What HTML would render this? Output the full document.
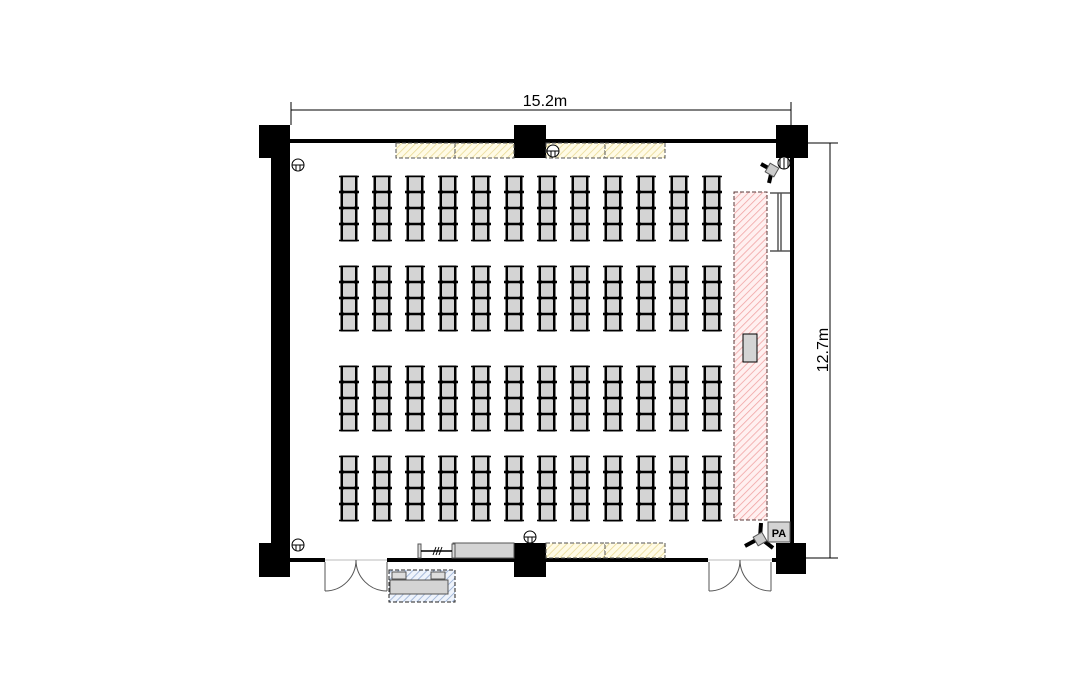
<!DOCTYPE html>
<html><head><meta charset="utf-8"><style>
html,body{margin:0;padding:0;background:#fff;}
svg{display:block;}
text{font-family:"Liberation Sans",sans-serif;}
</style></head><body>
<svg width="1079" height="696" viewBox="0 0 1079 696" xmlns="http://www.w3.org/2000/svg">
<defs>
<pattern id="yh" width="5" height="5" patternUnits="userSpaceOnUse" patternTransform="rotate(45)"><rect width="5" height="5" fill="#fffbe6"/><line x1="0" y1="0" x2="0" y2="5" stroke="#e8d890" stroke-width="1.5"/></pattern>
<pattern id="rh" width="5" height="5" patternUnits="userSpaceOnUse" patternTransform="rotate(45)"><rect width="5" height="5" fill="#fff0f0"/><line x1="0" y1="0" x2="0" y2="5" stroke="#f0a0a0" stroke-width="1.5"/></pattern>
<pattern id="bh" width="5" height="5" patternUnits="userSpaceOnUse" patternTransform="rotate(45)"><rect width="5" height="5" fill="#eef3fb"/><line x1="0" y1="0" x2="0" y2="5" stroke="#8fa8d0" stroke-width="1.5"/></pattern>
<g id="chair">
<rect x="341" y="0" width="16" height="65" fill="#d4d4d4" stroke="#000" stroke-width="1"/>
<line x1="342" y1="0" x2="342" y2="65" stroke="#000" stroke-width="2"/>
<line x1="356" y1="0" x2="356" y2="65" stroke="#000" stroke-width="2"/>
<g stroke="#000" stroke-width="2.4">
<line x1="339" y1="16" x2="359" y2="16"/><line x1="339" y1="32" x2="359" y2="32"/><line x1="339" y1="48" x2="359" y2="48"/>
</g>
<g fill="#000"><circle cx="342" cy="16" r="2"/><circle cx="356" cy="16" r="2"/><circle cx="342" cy="32" r="2"/><circle cx="356" cy="32" r="2"/><circle cx="342" cy="48" r="2"/><circle cx="356" cy="48" r="2"/></g>
<g stroke="#000" stroke-width="1.4"><line x1="339" y1="0.5" x2="359" y2="0.5"/><line x1="339" y1="64.5" x2="359" y2="64.5"/></g>
</g>
<g id="blockrow">
<use href="#chair" x="0"/><use href="#chair" x="33"/><use href="#chair" x="66"/><use href="#chair" x="99"/>
<use href="#chair" x="132"/><use href="#chair" x="165"/><use href="#chair" x="198"/><use href="#chair" x="231"/>
<use href="#chair" x="264"/><use href="#chair" x="297"/><use href="#chair" x="330"/><use href="#chair" x="363"/>
</g>
</defs>

<line x1="291" y1="110" x2="791" y2="110" stroke="#000" stroke-width="1"/>
<line x1="291" y1="102" x2="291" y2="125" stroke="#000" stroke-width="1"/>
<line x1="791" y1="102" x2="791" y2="125" stroke="#000" stroke-width="1"/>
<text x="545" y="106" font-size="16" text-anchor="middle">15.2m</text>
<line x1="830" y1="143" x2="830" y2="558" stroke="#000" stroke-width="1"/>
<line x1="808" y1="143" x2="838" y2="143" stroke="#000" stroke-width="1"/>
<line x1="806" y1="558" x2="838" y2="558" stroke="#000" stroke-width="1"/>
<text x="0" y="0" font-size="16" text-anchor="middle" transform="translate(828,350) rotate(-90)">12.7m</text>

<rect x="290" y="139" width="488" height="4" fill="#000"/>
<rect x="271" y="125" width="19" height="452" fill="#000"/>
<rect x="790" y="158" width="4" height="386" fill="#000"/>
<rect x="290" y="558" width="35" height="4" fill="#000"/>
<rect x="387" y="558" width="127" height="4" fill="#000"/>
<rect x="546" y="558" width="162" height="4" fill="#000"/>
<rect x="772" y="558" width="6" height="4" fill="#000"/>
<line x1="325" y1="560" x2="387" y2="560" stroke="#bbb" stroke-width="1"/>
<line x1="708" y1="560" x2="772" y2="560" stroke="#bbb" stroke-width="1"/>
<rect x="259" y="125" width="31" height="33" fill="#000"/>
<rect x="514" y="125" width="32" height="33" fill="#000"/>
<rect x="776" y="125" width="32" height="33" fill="#000"/>
<rect x="259" y="543" width="31" height="34" fill="#000"/>
<rect x="514" y="543" width="32" height="34" fill="#000"/>
<rect x="776" y="543" width="30" height="31" fill="#000"/>

<g fill="none" stroke="#555" stroke-width="1">
<line x1="325" y1="562" x2="325" y2="591"/><path d="M325 591 A31 31 0 0 0 356 560"/>
<line x1="387" y1="562" x2="387" y2="591"/><path d="M387 591 A31 31 0 0 1 356 560"/>
<line x1="709" y1="562" x2="709" y2="591"/><path d="M709 591 A31 31 0 0 0 740 560"/>
<line x1="771" y1="562" x2="771" y2="591"/><path d="M771 591 A31 31 0 0 1 740 560"/>
</g>

<g stroke="#555" stroke-width="1" stroke-dasharray="4,2" fill="url(#yh)">
<rect x="396" y="143" width="59" height="15"/><rect x="455" y="143" width="59" height="15"/>
<rect x="546" y="143" width="59" height="15"/><rect x="605" y="143" width="60" height="15"/>
<rect x="546" y="543" width="59" height="15"/><rect x="605" y="543" width="60" height="15"/>
</g>

<g fill="#fff" stroke="#000" stroke-width="1">
<circle cx="298" cy="165" r="6"/><circle cx="298" cy="545" r="6"/>
<circle cx="553" cy="151" r="6"/><circle cx="530" cy="537" r="6"/>
<circle cx="784" cy="163" r="6"/>
</g>
<g stroke="#000" stroke-width="1">
<line x1="292" y1="165" x2="304" y2="165"/><line x1="296" y1="165" x2="296" y2="171"/><line x1="300" y1="165" x2="300" y2="171"/>
<line x1="292" y1="545" x2="304" y2="545"/><line x1="296" y1="545" x2="296" y2="551"/><line x1="300" y1="545" x2="300" y2="551"/>
<line x1="547" y1="151" x2="559" y2="151"/><line x1="551" y1="151" x2="551" y2="157"/><line x1="555" y1="151" x2="555" y2="157"/>
<line x1="524" y1="537" x2="536" y2="537"/><line x1="528" y1="537" x2="528" y2="543"/><line x1="532" y1="537" x2="532" y2="543"/>
<line x1="780" y1="158" x2="780" y2="168"/><line x1="784" y1="158" x2="784" y2="169"/><line x1="788" y1="158" x2="788" y2="167"/>
</g>

<use href="#blockrow" y="176"/>
<use href="#blockrow" y="266"/>
<use href="#blockrow" y="366"/>
<use href="#blockrow" y="456"/>

<rect x="734" y="192" width="33" height="328" fill="url(#rh)" stroke="#5a3a3a" stroke-width="1" stroke-dasharray="4,2"/>
<rect x="743" y="334" width="14" height="28" fill="#d4d4d4" stroke="#000" stroke-width="1"/>
<g stroke="#555" stroke-width="1.5" fill="none">
<line x1="770" y1="193" x2="790" y2="193"/><line x1="770" y1="251" x2="790" y2="251"/>
<line x1="778" y1="193" x2="778" y2="251"/><line x1="781" y1="193" x2="781" y2="251"/>
</g>
<g stroke="#000" stroke-width="4">
<line x1="772" y1="170" x2="761" y2="164"/><line x1="772" y1="170" x2="769" y2="183"/>
<line x1="760" y1="538" x2="745" y2="546"/><line x1="760" y1="538" x2="761" y2="523"/><line x1="760" y1="538" x2="773" y2="548"/>
</g>
<rect x="767" y="165" width="10" height="10" fill="#ccc" stroke="#555" transform="rotate(30 772 170)"/>
<rect x="755" y="534" width="10" height="10" fill="#ccc" stroke="#555" transform="rotate(-30 760 539)"/>
<rect x="768" y="522" width="22" height="20" fill="#d4d4d4" stroke="#555" stroke-width="1"/>
<text x="779" y="537" font-size="11" font-weight="bold" text-anchor="middle">PA</text>

<rect x="453" y="543" width="61" height="15" fill="#d4d4d4" stroke="#555" stroke-width="1"/>
<rect x="418" y="544" width="3" height="14" fill="#ddd" stroke="#555"/>
<rect x="452" y="544" width="3" height="14" fill="#ddd" stroke="#555"/>
<line x1="421" y1="551" x2="452" y2="551" stroke="#000" stroke-width="1.5"/>
<g stroke="#000" stroke-width="1"><line x1="433" y1="555" x2="436" y2="547"/><line x1="436" y1="555" x2="439" y2="547"/><line x1="439" y1="555" x2="442" y2="547"/></g>
<rect x="389" y="570" width="66" height="32" fill="url(#bh)" stroke="#222" stroke-width="1" stroke-dasharray="4,2"/>
<rect x="390" y="580" width="58" height="14" fill="#d4d4d4" stroke="#555"/>
<rect x="392" y="572" width="14" height="7" fill="#ddd" stroke="#555"/>
<rect x="431" y="572" width="14" height="7" fill="#ddd" stroke="#555"/>
</svg>
</body></html>
